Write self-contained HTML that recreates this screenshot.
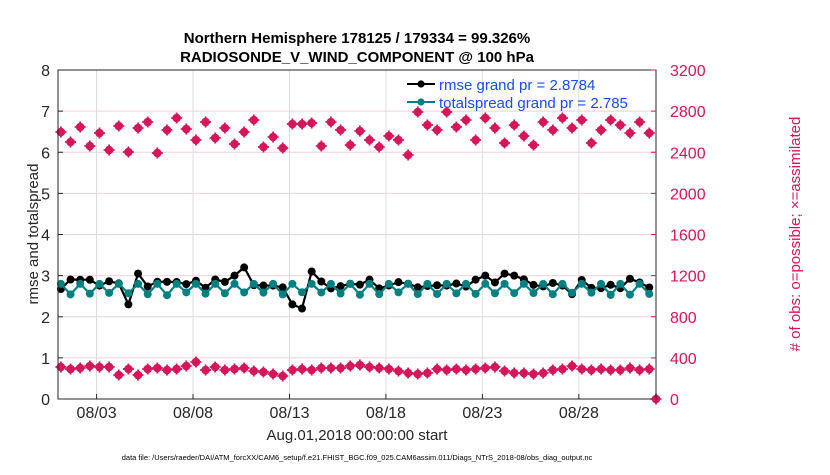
<!DOCTYPE html>
<html><head><meta charset="utf-8"><style>
body{margin:0;background:#fff;}
svg text{font-family:"Liberation Sans",sans-serif;}
</style></head><body>
<svg id="s" width="830" height="470" xmlns="http://www.w3.org/2000/svg">
<rect width="830" height="470" fill="#fff"/>
<g id="grid"></g>
<g id="data"></g>
<rect x="58" y="70" width="598" height="329" fill="none" stroke="#262626" stroke-width="1"/>
<g id="ticks" font-size="16" fill="#262626"></g>
<text x="357" y="43" font-size="15" font-weight="bold" text-anchor="middle" fill="#000">Northern Hemisphere 178125 / 179334 = 99.326%</text>
<text x="357" y="62" font-size="15" font-weight="bold" text-anchor="middle" fill="#000">RADIOSONDE_V_WIND_COMPONENT @ 100 hPa</text>
<text transform="translate(38,234) rotate(-90)" font-size="15" text-anchor="middle" fill="#262626">rmse and totalspread</text>
<text transform="translate(800,234) rotate(-90)" font-size="15" text-anchor="middle" fill="#d6165a">#  of obs: o=possible; ×=assimilated</text>
<text x="357" y="440" font-size="15" text-anchor="middle" fill="#262626">Aug.01,2018 00:00:00 start</text>
<text x="357" y="460" font-size="7.5" text-anchor="middle" fill="#000">data file: /Users/raeder/DAI/ATM_forcXX/CAM6_setup/f.e21.FHIST_BGC.f09_025.CAM6assim.011/Diags_NTrS_2018-08/obs_diag_output.nc</text>
<g id="leg"></g>
</svg>
<script>
var ns="http://www.w3.org/2000/svg";
function el(p,t,a,txt){var e=document.createElementNS(ns,t);for(var k in a)e.setAttribute(k,a[k]);if(txt!==undefined)e.textContent=txt;document.getElementById(p).appendChild(e);return e;}
var L=58,R=656,T=70,B=399,dx=(R-L)/31,dy=(B-T)/8,hx=dx/2;
for(var i=1;i<8;i++){var y=B-i*dy;el('grid','line',{x1:L,x2:R,y1:y,y2:y,stroke:'#f2cfdc','stroke-width':1});}
var labs=['08/03','08/08','08/13','08/18','08/23','08/28'];
for(var i=0;i<6;i++){var x=L+(2+5*i)*dx;el('grid','line',{x1:x,x2:x,y1:T,y2:B,stroke:'#dcdcdc','stroke-width':1});
el('ticks','line',{x1:x,x2:x,y1:B,y2:B-5,stroke:'#262626'});el('ticks','text',{x:x,y:B+19,'text-anchor':'middle'},labs[i]);}
for(var i=0;i<=8;i++){var y=B-i*dy;el('ticks','line',{x1:L,x2:L+5,y1:y,y2:y,stroke:'#262626'});el('ticks','line',{x1:R,x2:R-5,y1:y,y2:y,stroke:'#d6165a'});
el('ticks','text',{x:L-8,y:y+6,'text-anchor':'end'},i);
el('ticks','text',{x:R+14,y:y+6,fill:'#d6165a'},i*400);}
var seed=7;function rnd(){seed=(seed*16807)%2147483647;return seed/2147483647;}
var up=[132,142,127,146,133,150,126,152,128,122,153,130,118,129,140,122,138,128,144,132,120,147,137,148,124,124,123,146,122,130,145,131,140,147,136,140,155,112,125,130,112,127,120,140,118,128,143,125,136,145,122,130,118,128,120,143,130,120,125,133,122,133];
var lo=[367,369,368,366,367,367,375,369,375,369,368,370,369,366,362,370,367,370,369,368,371,372,374,376,370,369,370,368,368,368,366,365,367,368,369,371,373,374,373,369,370,369,370,369,368,367,371,373,373,374,373,370,369,366,369,370,369,370,370,368,370,369];
var blk=[],tl=[];
for(var i=0;i<62;i++){var x=L+(i+0.3)*hx;
 var b=2.8+(rnd()-0.5)*0.25;
 var ov={7:2.3,19:3.2,18:3.0,24:2.3,25:2.2,26:3.1,53:2.55,44:3.0,46:3.05,47:3.0,8:3.05,2:2.9,3:2.9};
 if(ov[i]!==undefined)b=ov[i];
 var t=(i%2==0)?2.8:2.52+rnd()*0.08;
 blk.push([x,B-b*dy]);tl.push([x,B-t*dy]);}
function poly(pts,c){el('data','polyline',{points:pts.map(function(p){return p[0].toFixed(1)+','+p[1].toFixed(1)}).join(' '),fill:'none',stroke:c,'stroke-width':2.2});
pts.forEach(function(p){el('data','circle',{cx:p[0],cy:p[1],r:4,fill:c});});}
poly(blk,'#000');poly(tl,'#008080');
function star(x,y){el('data','circle',{cx:x,cy:y,r:4.3,fill:'#d6165a'});el('data','path',{d:'M'+(x-5.5)+' '+y+'h11M'+x+' '+(y-5.5)+'v11',stroke:'#d6165a','stroke-width':1.8});}
for(var i=0;i<62;i++){var x=L+(i+0.3)*hx;star(x,up[i]);star(x,lo[i]);}
star(R,B);
el('leg','line',{x1:407,x2:435,y1:84,y2:84,stroke:'#000','stroke-width':2});el('leg','circle',{cx:421,cy:84,r:3.6,fill:'#000'});
el('leg','line',{x1:407,x2:435,y1:102,y2:102,stroke:'#008080','stroke-width':2});el('leg','circle',{cx:421,cy:102,r:3.6,fill:'#008080'});
el('leg','text',{x:439,y:90,'font-size':15,fill:'#1a4cff'},'rmse grand pr = 2.8784');
el('leg','text',{x:439,y:108,'font-size':15,fill:'#1a4cff'},'totalspread grand pr = 2.785');
</script>
</body></html>
